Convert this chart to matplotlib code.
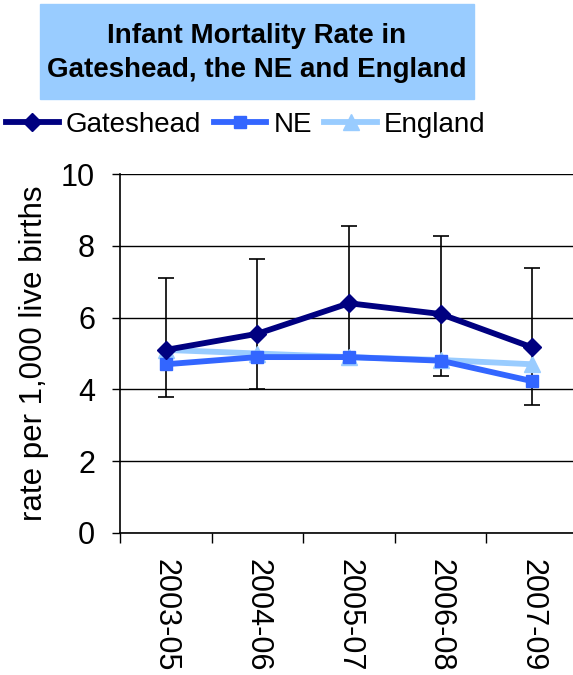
import matplotlib.pyplot as plt
from matplotlib.patches import Rectangle

periods = ["2003-05", "2004-06", "2005-07", "2006-08", "2007-09"]
gateshead = [5.1, 5.55, 6.4, 6.1, 5.17]
ne = [4.7, 4.9, 4.9, 4.8, 4.23]
england = [5.1, 5.0, 4.9, 4.82, 4.7]
gateshead_low = [3.78, 4.0, 4.88, 4.37, 3.57]
gateshead_high = [7.1, 7.63, 8.54, 8.27, 7.37]

plt.rcParams['font.family'] = ['Liberation Sans', 'DejaVu Sans']

fig = plt.figure(figsize=(5.73, 6.75), dpi=100)
ax = fig.add_axes([120 / 573, 142 / 675, 458 / 573, 359 / 675])

x = list(range(len(periods)))
yerr = [[g - lo for g, lo in zip(gateshead, gateshead_low)],
        [hi - g for g, hi in zip(gateshead, gateshead_high)]]
ax.errorbar(x, gateshead, yerr=yerr, fmt='none', ecolor='black',
            elinewidth=1.2, capsize=6, capthick=1.2, zorder=1.5)

ax.plot(x, england, color='#99ccff', lw=4.2, marker='^', ms=11,
        label='England', zorder=2)
ax.plot(x, ne, color='#3366ff', lw=4.2, marker='s', ms=8.5,
        label='NE', zorder=3)
ax.plot(x, gateshead, color='#000080', lw=4.2, marker='D', ms=9,
        label='Gateshead', zorder=4)

ax.set_xlim(-0.5, len(periods) - 0.5)
ax.set_ylim(0, 10)
ax.set_yticks([0, 2, 4, 6, 8, 10])
ax.yaxis.grid(True, color='black', lw=1)
ax.set_axisbelow(True)
ax.tick_params(axis='y', direction='out', length=6, width=1, labelsize=22, pad=12)

ax.set_xticks(x)
ax.set_xticklabels(periods, rotation=-90, fontsize=22)
ax.set_xticks([i - 0.5 for i in range(len(periods) + 1)], minor=True)
ax.tick_params(axis='x', which='major', length=0, pad=19)
ax.tick_params(axis='x', which='minor', direction='out', length=7, width=1)

for s in ['top', 'right']:
    ax.spines[s].set_visible(False)
ax.spines['left'].set_linewidth(1.2)
ax.spines['bottom'].set_linewidth(1.2)

ax.set_ylabel("rate per 1,000 live births", fontsize=22.5)
ax.yaxis.set_label_coords(-0.155, 0.5)

# title box
fig.patches.append(Rectangle((40 / 573, 1 - 99 / 675), 434 / 573, 95 / 675,
                             transform=fig.transFigure, color='#99ccff', zorder=0))
fig.text(257 / 573, 1 - 53 / 675, "Infant Mortality Rate in\nGateshead, the NE and England",
         ha='center', va='center', fontsize=20, fontweight='bold', linespacing=1.4)

h, l = ax.get_legend_handles_labels()
fig.legend(h[::-1], l[::-1], loc='center left', bbox_to_anchor=(6 / 573, 1 - 125 / 675),
           ncol=3, frameon=False, fontsize=20, handlelength=1.9,
           handletextpad=0.25, columnspacing=0.45, borderpad=0, borderaxespad=0)

fig.savefig("out.png", dpi=100)
